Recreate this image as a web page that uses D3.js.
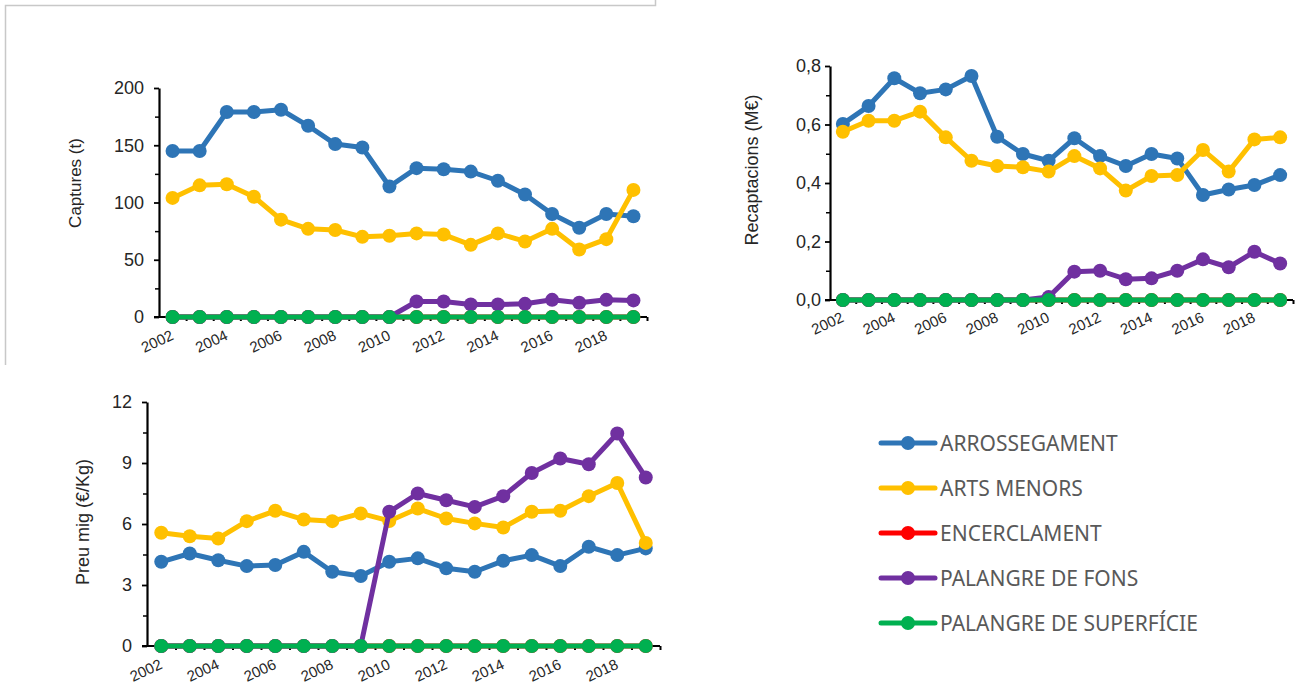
<!DOCTYPE html>
<html><head><meta charset="utf-8">
<script src="https://cdn.jsdelivr.net/npm/d3@7"></script>
<style>
html,body{margin:0;padding:0;background:#fff;}
svg{display:block;}
</style></head>
<body>
<svg id="c" width="1303" height="689"></svg>
<script>
const years = ["2002","2003","2004","2005","2006","2007","2008","2009","2010","2011","2012","2013","2014","2015","2016","2017","2018","2019"];
const yearLabels = ["2002","2004","2006","2008","2010","2012","2014","2016","2018"];
const seriesNames = ["ARROSSEGAMENT","ARTS MENORS","ENCERCLAMENT","PALANGRE DE FONS","PALANGRE DE SUPERFÍCIE"];
const seriesColors = ["#2E75B6","#FFC000","#FF0000","#7030A0","#00B050"];

// Captures (t)
const capArrossegament = [145,145,179,179,181,167,151,148,114,130,129,127,119,107,90,78,90,88];
const capArtsMenors    = [104,115,116,105,85,77,76,70,71,73,72,63,73,66,77,59,68,111];
const capEncerclament  = [0,0,0,0,0,0,0,0,0,0,0,0,0,0,0,0,0,0];
const capPalangreFons  = [0,0,0,0,0,0,0,0,0,13.5,13.5,11,11,11.5,15,12.5,15,14.5];
const capPalangreSup   = [0,0,0,0,0,0,0,0,0,0,0,0,0,0,0,0,0,0];
const capTicks = [0,50,100,150,200];

// Recaptacions (M€)
const recArrossegament = [0.602,0.663,0.758,0.707,0.72,0.766,0.558,0.499,0.476,0.553,0.492,0.458,0.499,0.484,0.359,0.378,0.393,0.427];
const recArtsMenors    = [0.575,0.613,0.613,0.644,0.556,0.476,0.458,0.454,0.439,0.492,0.45,0.374,0.424,0.427,0.513,0.439,0.549,0.556];
const recEncerclament  = [0,0,0,0,0,0,0,0,0,0,0,0,0,0,0,0,0,0];
const recPalangreFons  = [0,0,0,0,0,0,0,0,0.01,0.097,0.10,0.071,0.074,0.10,0.139,0.112,0.165,0.125];
const recPalangreSup   = [0,0,0,0,0,0,0,0,0,0,0,0,0,0,0,0,0,0];
const recTicks = [0,0.2,0.4,0.6,0.8];

// Preu mig (€/Kg)
const preArrossegament = [4.14,4.55,4.22,3.93,3.98,4.63,3.65,3.44,4.14,4.31,3.82,3.65,4.19,4.47,3.93,4.88,4.47,4.8];
const preArtsMenors    = [5.57,5.40,5.29,6.14,6.65,6.22,6.14,6.52,6.15,6.76,6.27,6.03,5.83,6.6,6.65,7.37,8.02,5.07];
const preEncerclament  = [0,0,0,0,0,0,0,0,0,0,0,0,0,0,0,0,0,0];
const prePalangreFons  = [0,0,0,0,0,0,0,0,6.6,7.5,7.17,6.84,7.37,8.51,9.22,8.94,10.45,8.29];
const prePalangreSup   = [0,0,0,0,0,0,0,0,0,0,0,0,0,0,0,0,0,0];
const preTicks = [0,3,6,9,12];

const svg = d3.select("#c");

// frame lines of the top-left panel
svg.append("path").attr("d","M5.5,365 V5.5 H655.5 V0")
  .attr("fill","none").attr("stroke","#c8c8c8").attr("stroke-width",1.5);

const FONT = "'Liberation Sans', Arial, sans-serif";

function drawChart(cfg){
  const g = svg.append("g");
  const x = d3.scaleBand().domain(years).range([cfg.x0, cfg.x1]).paddingInner(0).paddingOuter(0);
  const xi = d3.scaleLinear().domain([0, years.length]).range([cfg.x0, cfg.x1]);
  const y = d3.scaleLinear().domain([0, cfg.max]).range([cfg.yb, cfg.yt]);
  const cx = d => x(d) + x.bandwidth()/2;

  // minor y ticks
  const minor = [];
  for (let i=0;i<cfg.ticks.length-1;i++) minor.push((cfg.ticks[i]+cfg.ticks[i+1])/2);
  g.append("g").attr("transform",`translate(${cfg.x0},0)`)
    .call(d3.axisLeft(y).tickValues(minor).tickSize(4).tickFormat(""))
    .call(a=>a.select(".domain").remove())
    .call(a=>a.selectAll("line").attr("stroke","#000").attr("stroke-width",1.5));

  // major y axis
  const ya = g.append("g").attr("transform",`translate(${cfg.x0},0)`)
    .call(d3.axisLeft(y).tickValues(cfg.ticks).tickSize(5).tickSizeOuter(0).tickPadding(cfg.tickPad).tickFormat(cfg.fmt));
  ya.select(".domain").attr("stroke","#000").attr("stroke-width",2.2);
  ya.selectAll("line").attr("stroke","#000").attr("stroke-width",1.8);
  ya.selectAll("text").attr("font-family",FONT).attr("font-size",cfg.tickFont).attr("fill","#262626");

  // x axis
  const xa = g.append("g").attr("transform",`translate(0,${cfg.yb})`)
    .call(d3.axisBottom(xi).tickValues(d3.range(1, years.length+1)).tickSize(4).tickSizeOuter(0).tickFormat(""));
  xa.select(".domain").attr("stroke","#000").attr("stroke-width",2.2)
    .attr("d",`M${cfg.x0-5},0H${cfg.x1}`);
  xa.selectAll("line").attr("stroke","#000").attr("stroke-width",2);

  // x labels
  g.append("g").selectAll("text").data(yearLabels).join("text")
    .attr("transform", d=>`translate(${cx(d)+2},${cfg.yb+cfg.labOff}) rotate(-25)`)
    .attr("text-anchor","end")
    .attr("font-family",FONT).attr("font-size",15).attr("fill","#262626")
    .text(d=>d);

  // y title
  g.append("text")
    .attr("transform",`translate(${cfg.titleX},${cfg.titleY}) rotate(-90)`)
    .attr("text-anchor","middle")
    .attr("font-family",FONT).attr("font-size",cfg.titleFont).attr("fill","#262626")
    .text(cfg.title);

  // series
  const line = d3.line().x((d,i)=>cx(years[i])).y(d=>y(d));
  cfg.series.forEach((vals, si) => {
    const sg = g.append("g");
    sg.append("path").datum(vals).attr("d", line)
      .attr("fill","none").attr("stroke",seriesColors[si]).attr("stroke-width",5)
      .attr("stroke-linejoin","round");
    sg.selectAll("circle").data(vals).join("circle")
      .attr("cx",(d,i)=>cx(years[i])).attr("cy",d=>y(d)).attr("r",7)
      .attr("fill",seriesColors[si]);
  });
}

drawChart({
  x0:159, x1:647, yt:88, yb:317, max:200, ticks:capTicks, fmt:d=>d, tickPad:10,
  title:"Captures (t)", titleX:81, titleY:183, tickFont:18, titleFont:17, labOff:22,
  series:[capArrossegament, capArtsMenors, capEncerclament, capPalangreFons, capPalangreSup]
});
drawChart({
  x0:830, x1:1293, yt:66, yb:300, max:0.8, ticks:recTicks, fmt:d=>d3.format(".1f")(d).replace(".",","), tickPad:4,
  title:"Recaptacions (M€)", titleX:758, titleY:170, tickFont:18, titleFont:18, labOff:21,
  series:[recArrossegament, recArtsMenors, recEncerclament, recPalangreFons, recPalangreSup]
});
drawChart({
  x0:147, x1:660, yt:402, yb:646, max:12, ticks:preTicks, fmt:d=>d, tickPad:10,
  title:"Preu mig (€/Kg)", titleX:88.5, titleY:522, tickFont:18, titleFont:18, labOff:22,
  series:[preArrossegament, preArtsMenors, preEncerclament, prePalangreFons, prePalangreSup]
});

// legend
const lg = svg.append("g");
const ly = d3.scalePoint().domain(seriesNames).range([443, 623]);
seriesNames.forEach((n, i) => {
  const yy = ly(n);
  lg.append("line").attr("x1",881).attr("x2",935).attr("y1",yy).attr("y2",yy)
    .attr("stroke",seriesColors[i]).attr("stroke-width",5).attr("stroke-linecap","round");
  lg.append("circle").attr("cx",908).attr("cy",yy).attr("r",7).attr("fill",seriesColors[i]);
  lg.append("text").attr("x",940).attr("y",yy).attr("dy","0.36em")
    .attr("font-family","'Noto Sans', 'Open Sans', sans-serif").attr("font-size",21)
    .attr("fill","#595959").text(n);
});
</script>
</body></html>
